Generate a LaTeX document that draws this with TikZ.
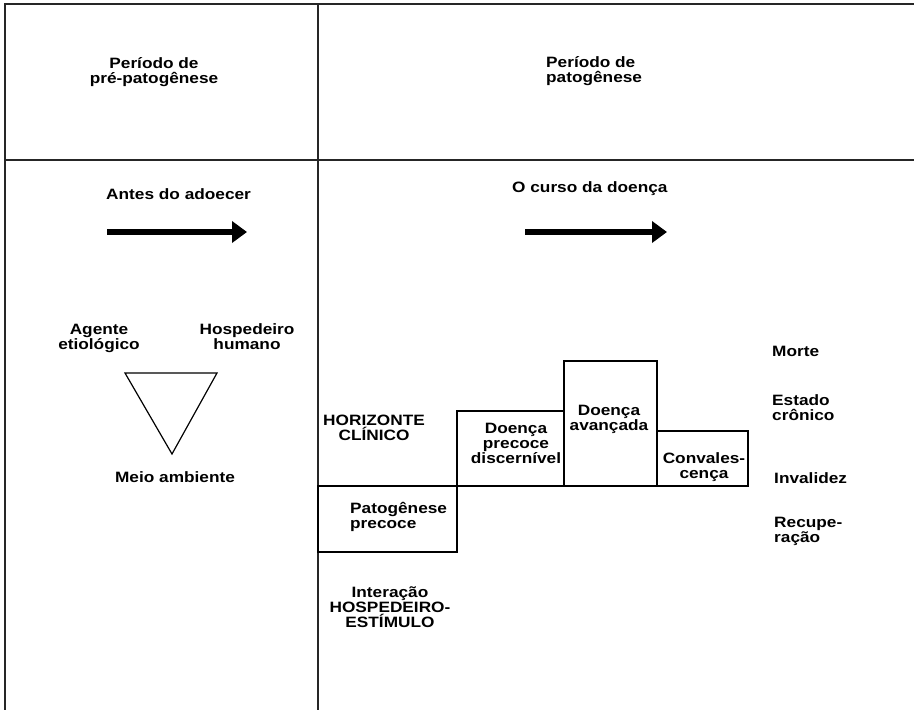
\documentclass[tikz,border=0pt]{standalone}
\usepackage{fontspec}
\newfontfamily\diagfont{Liberation Sans}[FakeStretch=1.15]
\usetikzlibrary{arrows.meta}
\newcommand{\firstline}{\rule{0pt}{12pt}}
\tikzset{
    frame/.style={line width=1.4pt, draw=black!85},
    stagebox/.style={line width=1.3pt},
    txt/.style={font=\diagfont\bfseries\fontsize{15}{15}\selectfont, inner sep=0pt},
    lefttxt/.style={txt, anchor=north west, align=left},
    midtxt/.style={txt, anchor=north, align=center},
    course/.style={line width=6pt, -{Triangle[length=15pt,width=21pt]}},
}
\begin{document}
\begin{tikzpicture}[x=1pt, y=-1pt]
    \useasboundingbox (0,0) rectangle (914,710);

    % frame and dividers
    \draw[frame] (914,4) -- (5,4) -- (5,710);
    \draw[frame] (5,160) -- (914,160);
    \draw[frame] (318,4) -- (318,710);

    % headings
    \node[midtxt] (prepat) at (154,56) {\firstline Período de\\pré-patogênese};
    \node[lefttxt] (pat) at (546,55) {\firstline Período de\\patogênese};
    \node[lefttxt] (antes) at (106,187) {\firstline Antes do adoecer};
    \node[lefttxt] (curso) at (512,180) {\firstline O curso da doença};

    % arrows
    \coordinate (antes-start) at (107,232);
    \coordinate (antes-end) at (247,232);
    \coordinate (curso-start) at (525,232);
    \coordinate (curso-end) at (667,232);
    \draw[course] (antes-start) -- (antes-end);
    \draw[course] (curso-start) -- (curso-end);

    % triad
    \node[midtxt] (agente) at (99,322) {\firstline Agente\\etiológico};
    \node[midtxt] (hosp) at (247,322) {\firstline Hospedeiro\\humano};
    \coordinate (tri-a) at (125,373);
    \coordinate (tri-b) at (217,373);
    \coordinate (tri-c) at (172,454);
    \draw[line width=1.2pt] (tri-a) -- (tri-b) -- (tri-c) -- cycle;
    \node[midtxt] (meio) at (175,470) {\firstline Meio ambiente};

    % stages
    \draw[stagebox] (318,486) rectangle (457,552);
    \draw[stagebox] (457,411) rectangle (564,486);
    \draw[stagebox] (564,361) rectangle (657,486);
    \draw[stagebox] (657,431) rectangle (748,486);

    \node[midtxt] (horiz) at (374,413) {\firstline HORIZONTE\\CLÍNICO};
    \node[lefttxt] (patprec) at (350,501) {\firstline Patogênese\\precoce};
    \node[midtxt] (discern) at (516,421) {\firstline Doença\\precoce\\discernível};
    \node[midtxt] (avanc) at (609,403) {\firstline Doença\\avançada};
    \node[midtxt] (conval) at (704,451) {\firstline Convales-\\cença};

    % outcomes
    \node[lefttxt] (morte) at (772,344) {\firstline Morte};
    \node[lefttxt] (estado) at (772,393) {\firstline Estado\\crônico};
    \node[lefttxt] (inval) at (774,471) {\firstline Invalidez};
    \node[lefttxt] (recup) at (774,515) {\firstline Recupe-\\ração};

    \node[midtxt] (inter) at (390,585) {\firstline Interação\\HOSPEDEIRO-\\ESTÍMULO};
\end{tikzpicture}
\end{document}
